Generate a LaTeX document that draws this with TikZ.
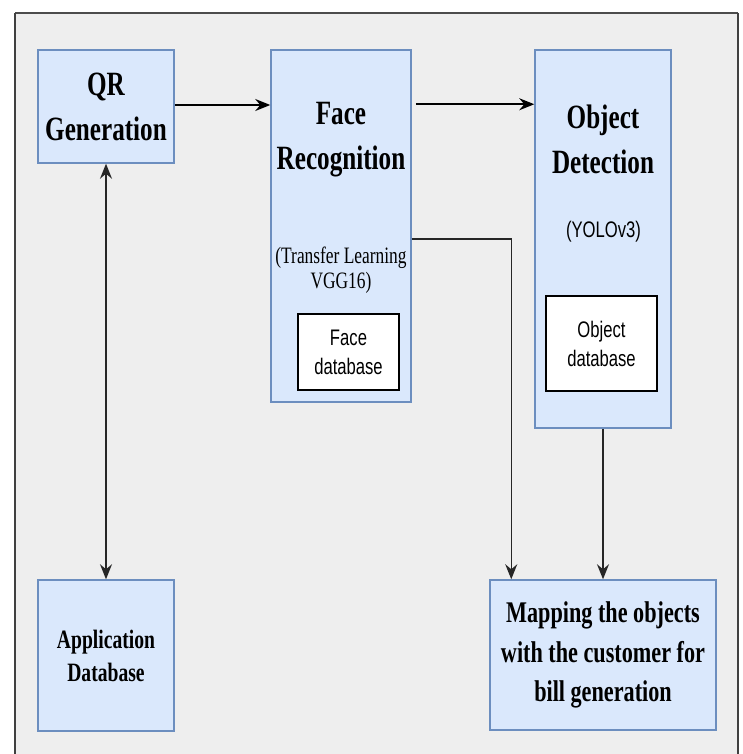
\documentclass[tikz,border=0pt]{standalone}
\usepackage{fontspec}
\setmainfont[FakeStretch=0.74]{Liberation Serif}
\setsansfont[FakeStretch=0.74]{Liberation Sans}
\usepackage{xcolor}
\usetikzlibrary{arrows.meta, positioning}

\definecolor{boxfill}{HTML}{DAE8FC}
\definecolor{boxline}{HTML}{6C8EBF}
\definecolor{canvas}{HTML}{EEEEEE}

\begin{document}
\begin{tikzpicture}[
                x=1pt, y=-1pt,
                block/.style={rectangle, draw=boxline, fill=boxfill, line width=1.5pt, inner sep=0pt, align=center},
                dbbox/.style={rectangle, draw=black, fill=white, line width=1.3pt, inner sep=0pt, align=center, font=\sffamily\fontsize{22.5}{29}\selectfont},
                title/.style={inner sep=0pt, align=center, anchor=north, font=\bfseries\fontsize{34}{45}\selectfont},
                note/.style={inner sep=0pt, align=center},
                flow/.style={-{Stealth[length=15pt, width=12pt, inset=5pt]}, line width=1.4pt, draw=black!85},
                mainflow/.style={flow, line width=2pt, draw=black},
                twoway/.style={{Stealth[length=15pt, width=12pt, inset=5pt]}-{Stealth[length=15pt, width=12pt, inset=5pt]}, line width=1.4pt, draw=black!85}
                ]
                \useasboundingbox (0,0) rectangle (743,754);

                % Canvas frame
                \fill[canvas] (15,13) rectangle (738,754);
                \draw[line width=2pt, black!70] (15,13) -- (738,13);
                \draw[line width=1.5pt, black!75] (15,13) -- (15,754);
                \draw[line width=1.5pt, black!75] (738,13) -- (738,754);

                % Blocks
                \node[block, minimum width=136pt, minimum height=113pt, font=\bfseries\fontsize{34}{45}\selectfont] (qr) at (106,106.5) {QR\\Generation};
                \node[block, minimum width=140pt, minimum height=352pt] (face) at (341,226) {};
                \node[block, minimum width=136pt, minimum height=378pt] (obj) at (603,239) {};
                \node[block, minimum width=136pt, minimum height=151pt, font=\bfseries\fontsize{26.5}{33}\selectfont] (appdb) at (106,655.5) {Application\\Database};
                \node[block, minimum width=226pt, minimum height=150pt, font=\bfseries\fontsize{30}{39.5}\selectfont] (map) at (603,655) {Mapping the objects\\with the customer for\\bill generation};

                % Texts inside the tall blocks
                \node[title] (facetitle) at (341,102) {Face\\Recognition};
                \node[title] (objtitle) at (603,105) {Object\\Detection};
                \node[note, font=\fontsize{23.5}{25}\selectfont] (facenote) at (341,270.5) {(Transfer Learning\\VGG16)};
                \node[note, font=\sffamily\fontsize{22.5}{29}\selectfont] (objnote) at (603.5,232) {(YOLOv3)};

                % Databases
                \node[dbbox, minimum width=101pt, minimum height=76pt] (facedb) at (348.5,352) {Face\\database};
                \node[dbbox, minimum width=111pt, minimum height=95pt] (objdb) at (601.5,343.5) {Object\\database};

                % Connectors
                \draw[mainflow] ([yshift=1.5pt]qr.east) -- ([yshift=1.5pt]qr.east -| face.west);
                \draw[mainflow] ([xshift=4pt, yshift=-55pt]face.north east) -- ([yshift=-55pt]obj.north west);
                \draw[twoway] (qr.south) -- (appdb.north);
                \draw[flow] ([yshift=-13pt]face.east) -| ([xshift=22pt]map.north west);
                \draw[flow] (obj.south) -- (map.north);

                \end{tikzpicture}
\end{document}
